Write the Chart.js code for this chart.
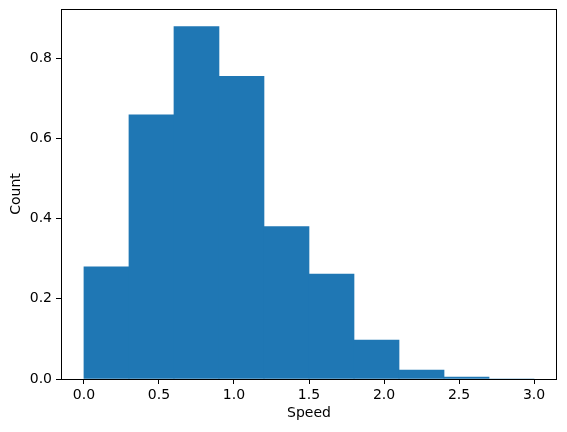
<!DOCTYPE html>
<html>
<head>
<meta charset="utf-8">
<script src="https://cdn.jsdelivr.net/npm/chart.js@4"></script>
<style>
  body { margin: 0; background: #fff; }
  #wrap { width: 567px; height: 432px; }
</style>
</head>
<body>
<div id="wrap"><canvas id="grafico"></canvas></div>
<script>
// bordes de los bins y densidad de cada uno
const bordes = [0.0, 0.3, 0.6, 0.9, 1.2, 1.5, 1.8, 2.1, 2.4, 2.7, 3.0];
const densidad = [0.28, 0.659, 0.879, 0.755, 0.38, 0.262, 0.097, 0.0225, 0.005, 0.0];
const ticksX = [0.0, 0.5, 1.0, 1.5, 2.0, 2.5, 3.0];
const ticksY = [0.0, 0.2, 0.4, 0.6, 0.8];

const puntos = densidad.map((v, i) => ({ x: (bordes[i] + bordes[i + 1]) / 2, y: v }));

// marco completo como en matplotlib
const marco = {
  id: 'marco',
  afterDraw(chart) {
    const { ctx, chartArea: a } = chart;
    ctx.save();
    ctx.strokeStyle = '#000';
    ctx.lineWidth = 1;
    ctx.strokeRect(a.left + 0.5, a.top + 0.5, a.right - a.left - 1, a.bottom - a.top);
    ctx.restore();
  }
};

const fuente = { family: 'DejaVu Sans', size: 14 };

new Chart(document.getElementById('grafico').getContext('2d'), {
  type: 'bar',
  data: {
    datasets: [{
      data: puntos,
      backgroundColor: '#1f77b4',
      borderWidth: 0,
      barPercentage: 1,
      categoryPercentage: 1,
      grouped: false
    }]
  },
  plugins: [marco],
  options: {
    responsive: true,
    maintainAspectRatio: false,
    animation: false,
    layout: { padding: { top: 9, right: 10, left: 0, bottom: 0 } },
    plugins: { legend: { display: false }, tooltip: { enabled: false } },
    scales: {
      x: {
        type: 'linear',
        min: -0.153,
        max: 3.153,
        offset: false,
        afterFit(s) { s.height = 53; s.paddingLeft = 0; s.paddingRight = 0; },
        afterBuildTicks(s) { s.ticks = ticksX.map(v => ({ value: v })); },
        ticks: { color: '#000', font: fuente, padding: 3, maxRotation: 0,
          callback: v => v.toFixed(1) },
        grid: { display: true, offset: false, drawOnChartArea: false, drawTicks: true, tickLength: 5, color: '#000' },
        border: { display: false },
        title: { display: true, text: 'Speed', color: '#000', font: fuente, padding: { top: 0, bottom: 10 } }
      },
      y: {
        min: 0,
        max: 0.923,
        afterFit(s) { s.width = 61; s.paddingTop = 0; s.paddingBottom = 0; },
        afterBuildTicks(s) { s.ticks = ticksY.map(v => ({ value: v })); },
        ticks: { color: '#000', font: fuente, padding: 4,
          callback: v => v.toFixed(1) },
        grid: { display: true, offset: false, drawOnChartArea: false, drawTicks: true, tickLength: 5, color: '#000' },
        border: { display: false },
        title: { display: true, text: 'Count', color: '#000', font: fuente, padding: { top: 8, bottom: 0 } }
      }
    }
  }
});
</script>
</body>
</html>
